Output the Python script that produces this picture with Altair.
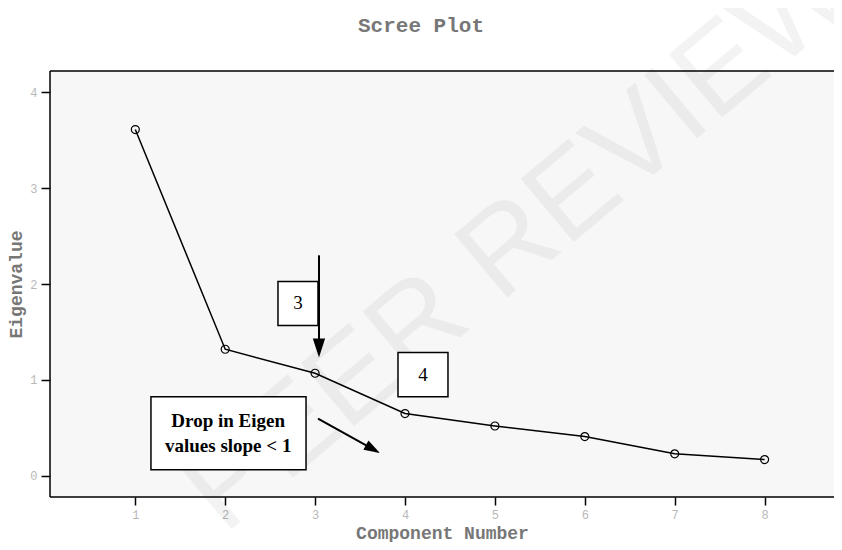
import altair as alt
import pandas as pd

# ---- data ----
components = [1, 2, 3, 4, 5, 6, 7, 8]
eigenvalues = [3.61, 1.32, 1.07, 0.65, 0.52, 0.41, 0.23, 0.17]

x_domain = [0.051, 8.772]
y_domain = [-0.22, 4.22]
x_ticks = [1, 2, 3, 4, 5, 6, 7, 8]
y_ticks = [0, 1, 2, 3, 4]

# numbered boxes
box_labels = ["3", "4"]
box_x1 = [2.587, 3.922]
box_x2 = [3.032, 4.478]
box_y1 = [1.567, 0.825]
box_y2 = [2.027, 1.285]
box_text_x = [2.81, 4.20]
box_text_y = [1.797, 1.055]

# note box
note_lines = ["Drop in Eigen", "values slope < 1"]
note_box_x = [1.174, 2.899]
note_box_y = [0.063, 0.825]
note_text_x = [2.033, 2.033]
note_text_y = [0.575, 0.313]

# arrows
arrow_x1 = [3.043, 3.032]
arrow_y1 = [2.299, 0.596]
arrow_x2 = [3.043, 3.643]
arrow_y2 = [1.39, 0.28]
head_x = [3.043, 3.643]
head_y = [1.332, 0.280]
head_angle = [0, 299]
head_size = [361, 256]

# watermark
wm_text = ["PEER REVIEW"]
wm_x = [5.28]
wm_y = [2.46]

TITLE = "Scree Plot"
W, H = 784, 426

# ---- frames ----
scree = pd.DataFrame({"c": components, "e": eigenvalues})
boxes = pd.DataFrame({"label": box_labels, "x1": box_x1, "x2": box_x2,
                      "y1": box_y1, "y2": box_y2, "tx": box_text_x, "ty": box_text_y})
note_box = pd.DataFrame({"x1": [note_box_x[0]], "x2": [note_box_x[1]],
                         "y1": [note_box_y[0]], "y2": [note_box_y[1]]})
note_txt = pd.DataFrame({"t": note_lines, "x": note_text_x, "y": note_text_y})
arrows = pd.DataFrame({"x1": arrow_x1, "y1": arrow_y1, "x2": arrow_x2, "y2": arrow_y2})
heads = pd.DataFrame({"x": head_x, "y": head_y, "a": head_angle, "s": head_size})
wm = pd.DataFrame({"t": wm_text, "x": wm_x, "y": wm_y})
one = pd.DataFrame({"t": [TITLE]})

xs = alt.Scale(domain=x_domain, nice=False, zero=False)
ys = alt.Scale(domain=y_domain, nice=False, zero=False)

X = lambda f: alt.X(f, type="quantitative", scale=xs,
                    axis=alt.Axis(values=x_ticks, title="Component Number", tickSize=8,
                                  labelPadding=4, format="d",
                                  titleFontSize=18, titleY=45, titleBaseline="bottom"))
Y = lambda f: alt.Y(f, type="quantitative", scale=ys,
                    axis=alt.Axis(values=y_ticks, title="Eigenvalue", tickSize=9,
                                  labelPadding=4, titlePadding=4, format="d",
                                  titleFontSize=18))

watermark = alt.Chart(wm).mark_text(
    font="Liberation Sans", fontSize=120, angle=320, color="black", opacity=0.045
).encode(x=X("x"), y=Y("y"), text="t:N")

line = alt.Chart(scree).mark_line(color="black", strokeWidth=1.5).encode(x=X("c"), y=Y("e"))
pts = alt.Chart(scree).mark_point(shape="circle", filled=False, color="black",
                                  size=64, strokeWidth=1.2, opacity=1).encode(x=X("c"), y=Y("e"))

box_rect = alt.Chart(boxes).mark_rect(fill="white", stroke="black", strokeWidth=1.5).encode(
    x=X("x1"), x2="x2", y=Y("y1"), y2="y2")
box_text = alt.Chart(boxes).mark_text(font="Liberation Serif", fontSize=19, color="black").encode(
    x=X("tx"), y=Y("ty"), text="label:N")

nb_rect = alt.Chart(note_box).mark_rect(fill="white", stroke="black", strokeWidth=1.5).encode(
    x=X("x1"), x2="x2", y=Y("y1"), y2="y2")
nb_text = alt.Chart(note_txt).mark_text(font="Liberation Serif", fontSize=19, fontWeight="bold",
                                        color="black").encode(x=X("x"), y=Y("y"), text="t:N")

arrow_lines = alt.Chart(arrows).mark_rule(color="black", strokeWidth=2).encode(
    x=X("x1"), y=Y("y1"), x2="x2", y2="y2")
arrow_heads = alt.Chart(heads).mark_point(shape="M0,1L-0.65,-1L0.65,-1Z", filled=True,
                                          color="black", opacity=1).encode(
    x=X("x"), y=Y("y"), angle=alt.Angle("a:Q", scale=None), size=alt.Size("s:Q", scale=None))

# frame (left, top, bottom borders) and title
frame_l = alt.Chart(one).mark_rule(color="black", strokeWidth=1.5).encode(
    x=alt.value(0), y=alt.value(0), y2=alt.value(H))
frame_t = alt.Chart(one).mark_rule(color="black", strokeWidth=1.5).encode(
    x=alt.value(0), x2=alt.value(W + 20), y=alt.value(0))
frame_b = alt.Chart(one).mark_rule(color="black", strokeWidth=1.5).encode(
    x=alt.value(0), x2=alt.value(W + 20), y=alt.value(H))
title = alt.Chart(one).mark_text(font="Liberation Mono", fontSize=21, fontWeight="bold",
                                 color="#777777", baseline="middle").encode(
    x=alt.value(371), y=alt.value(-45), text="t:N")

chart = alt.layer(
    watermark, line, pts, box_rect, box_text, nb_rect, nb_text, arrow_lines, arrow_heads,
    frame_l, frame_t, frame_b, title
).properties(
    width=W, height=H,
    autosize=alt.AutoSizeParams(type="none"),
    padding={"left": 42, "top": 63, "right": 0, "bottom": 45},
    background="white",
).configure_view(
    fill="#f7f7f7", stroke=None
).configure_axis(
    domain=False, grid=False, tickColor="black", tickWidth=1.5,
    labelFont="Liberation Mono", labelFontSize=12, labelColor="#b8b8b8",
    titleFont="Liberation Mono", titleColor="#777777", titleFontWeight="bold",
)

chart.save("out.html", embed_options={"renderer": "svg", "actions": False})
